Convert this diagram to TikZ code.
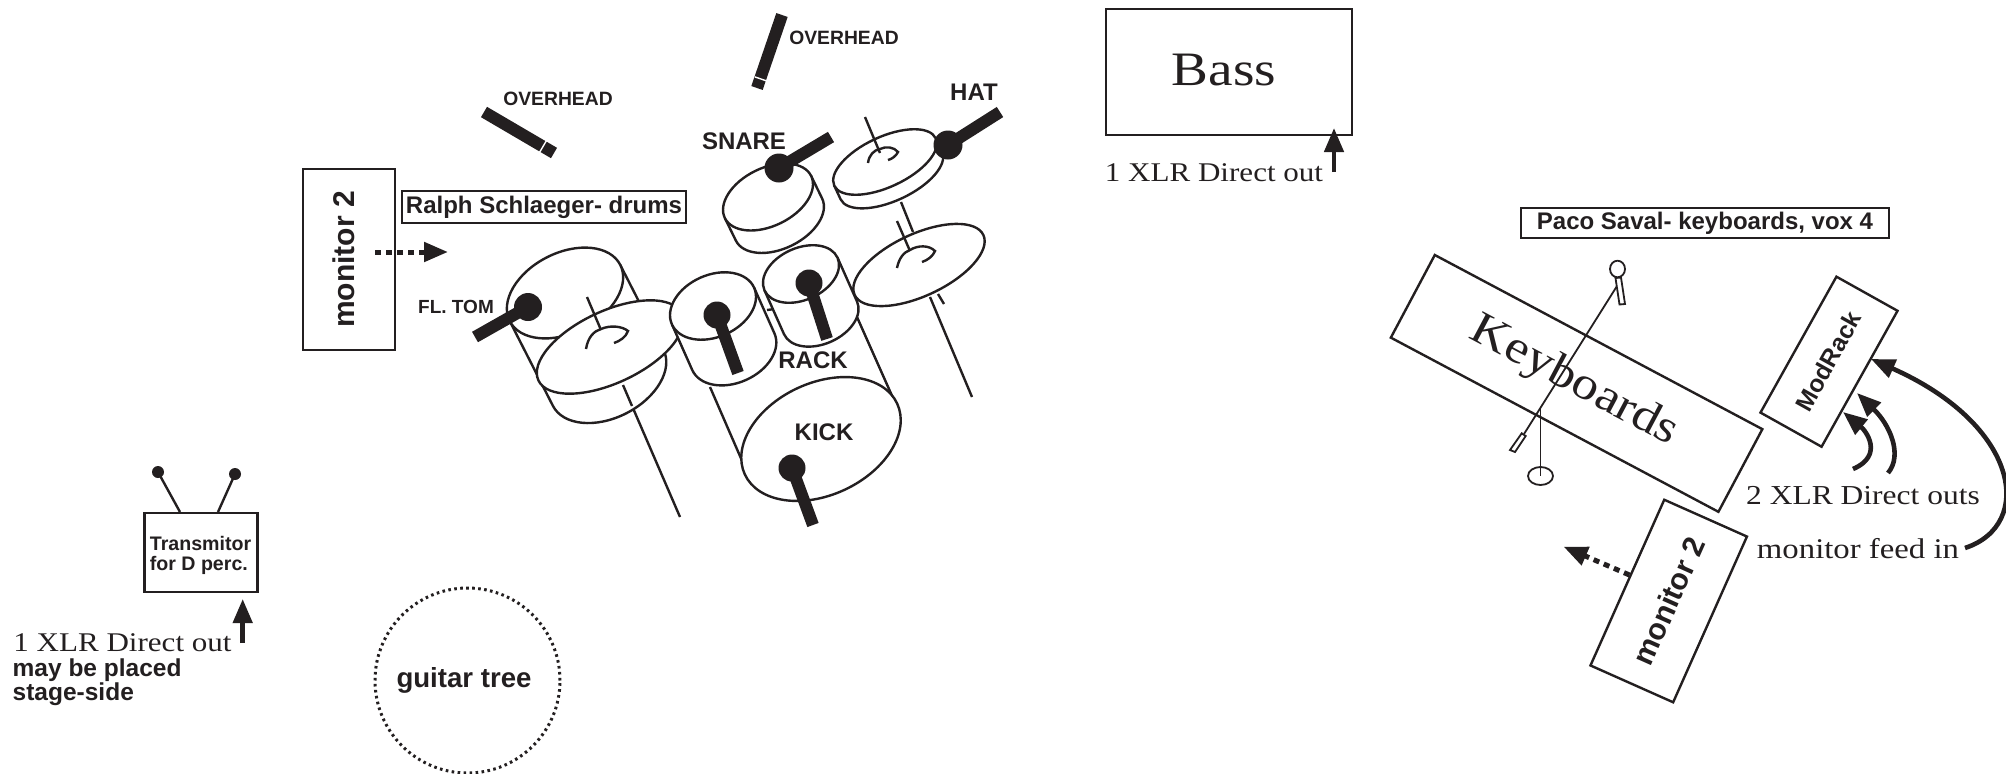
\documentclass[tikz,border=0pt]{standalone}
\usepackage{fontspec}
\usetikzlibrary{arrows.meta}
\setmainfont{Liberation Sans}
\newfontfamily\bkfont[FakeStretch=1.15]{Liberation Serif}
\definecolor{ink}{HTML}{231F20}
\newcommand\sanstxt[1]{\fontsize{#1}{#1}\selectfont\bfseries}
\newcommand\serftxt[1]{\bkfont\fontsize{#1}{#1}\selectfont}
% drum: centre x, y, tilt, semi axes a, b, shell depth h
\newcommand\drumshell[6]{%
  \begin{scope}[shift={(#1,#2)},rotate=#3,x=1pt,y=1pt]
    \filldraw[thinline,fill=white] (-#4,0) -- (-#4,-#6) arc[start angle=180,end angle=360,x radius=#4,y radius=#5] -- (#4,0);
    \filldraw[thinline,fill=white] (0,0) ellipse[x radius=#4,y radius=#5];
  \end{scope}}
\newcommand\cymbaldisc[5]{%
  \begin{scope}[shift={(#1,#2)},rotate=#3,x=1pt,y=1pt]
    \filldraw[thinline,fill=white] (0,0) ellipse[x radius=#4,y radius=#5];
  \end{scope}}
\newcommand\micstem[4]{\draw[micbar] (#1) -- (#2); \fill[ink] (#3) circle[radius=#4];}
\tikzset{
  thinline/.style={draw=ink,line width=2.4pt},
  plainbox/.style={draw=ink,line width=2.4pt,fill=white,inner sep=0pt,text=ink,align=center},
  txt/.style={inner sep=0pt,text=ink,align=left},
  micbar/.style={draw=ink,line width=12pt},
  sepbar/.style={draw=white,line width=1.4pt},
  solidarrow/.style={draw=ink,line width=4.6pt,-{Triangle[length=24pt,width=19pt]}},
  dotarrow/.style={draw=ink,line width=5pt,dash pattern=on 6pt off 5pt,-{Triangle[length=24pt,width=19pt]}},
}
\begin{document}
\begin{tikzpicture}[x=1pt,y=-1pt]
\useasboundingbox (0,0) rectangle (2006,774);

% ---- left monitor
\node[plainbox,rotate=90,minimum width=181pt,minimum height=92pt,font=\sanstxt{30}] (monA) at (349,259.5) {\raisebox{11pt}{monitor 2}};
\coordinate (monAfrom) at (375,252);
\coordinate (monAto) at (448,252);
\draw[dotarrow] (monAfrom) -- (monAto);

% ---- overheads
\draw[micbar] (484,112) -- (554,153);
\draw[sepbar] (546.3,140.9) -- (539.7,152.1);
\node[txt,font=\sanstxt{19.3}] (ohA) at (558,99) {OVERHEAD};
\draw[micbar] (782,15) -- (757,88);
\draw[sepbar] (754.9,76.9) -- (767.1,81.1);
\node[txt,font=\sanstxt{19.3}] (ohB) at (844,38) {OVERHEAD};

% ---- names
\node[plainbox,minimum width=284pt,minimum height=32pt,font=\sanstxt{24}] (ralph) at (544,207) {\raisebox{-1pt}{Ralph Schlaeger- drums}};

% ---- stands behind the kit
\draw[thinline] (901,202) -- (913,232);
\draw[thinline] (930,297) -- (972,397);
\draw[thinline] (938,294) -- (944,304);
\draw[thinline] (623,385) -- (680,517);

% ---- floor tom, crash
\drumshell{565}{293}{27}{62}{40}{95}
\cymbaldisc{610}{347}{25}{79}{36}
\draw[thinline] (587,297) -- (601,330);
\draw[thinline] (586,349) .. controls (588,337) and (594,331) .. (601,329) .. controls (610,325) and (622,326) .. (628,331) .. controls (626,337) and (620,341) .. (614,343);
\draw[thinline] (623,385) -- (632,406);

% ---- kick
\draw[thinline] (710,387) -- (743,463);
\draw[thinline] (857,317) -- (893,398);
\cymbaldisc{821}{439}{25}{84}{56}

% ---- snare, hat
\drumshell{768}{197}{26}{48}{29}{25}
\drumshell{885}{162}{25}{56}{25}{15}
\draw[thinline] (865,117) -- (880,153);
\draw[thinline] (868,163) .. controls (869,155) and (874,150) .. (880,149) .. controls (886,146) and (894,147) .. (898,152) .. controls (896,156) and (892,159) .. (888,160);

% ---- rack toms
\drumshell{713}{306}{24}{45}{31}{50}
\draw[thinline] (767,310) -- (775,309);
\drumshell{801}{274}{24}{40}{26}{48}

% ---- ride
\cymbaldisc{919}{265}{25}{71}{31}
\draw[thinline] (897,221) -- (910,251);
\draw[thinline] (897,268) .. controls (899,258) and (904,252) .. (910,250) .. controls (918,245) and (929,245) .. (935,251) .. controls (933,256) and (928,260) .. (922,262);

% ---- close mics
\micstem{475,337}{528,307}{528,307}{14}
\micstem{738,373}{717,315}{717,315}{13.5}
\micstem{827,339}{809,283}{809,283}{13.5}
\micstem{831,137}{779,168}{779,168}{14.5}
\micstem{1000,112}{948,145}{948,145}{14.5}
\micstem{813,525}{792,468}{792,468}{13.5}

\node[txt,font=\sanstxt{19}] (flt) at (456,307) {FL. TOM};
\node[txt,font=\sanstxt{24}] (rack) at (813,360) {RACK};
\node[txt,font=\sanstxt{24}] (kick) at (824,432) {KICK};
\node[txt,font=\sanstxt{24}] (snare) at (744,141) {SNARE};
\node[txt,font=\sanstxt{24}] (hat) at (974,92) {HAT};

% ---- transmitter
\node[plainbox,minimum width=113pt,minimum height=79pt] (trans) at (201,552.7) {};
\node[txt,font=\fontsize{19.6}{20}\selectfont\bfseries] (transt) at (200.5,555.5) {Transmitor\\for D perc.};
\coordinate (antA) at (158,472);
\coordinate (antB) at (235,474);
\fill[ink] (antA) circle[radius=6];
\fill[ink] (antB) circle[radius=6];
\draw[thinline] (antA) -- (180,512);
\draw[thinline] (antB) -- (218,512);
\coordinate (transfrom) at (242.7,643);
\coordinate (transto) at (242.7,599);
\draw[solidarrow] (transfrom) -- (transto);
\node[txt,font=\serftxt{27}] (transout) at (122.5,643) {1 XLR Direct out};
\node[txt,anchor=west,font=\fontsize{24.5}{24.5}\selectfont\bfseries] (stage) at (12.5,682) {may be placed\\stage-side};

% ---- guitar tree
\node[draw=ink,line width=3pt,dash pattern=on 2.6pt off 3.4pt,circle,minimum size=185pt,inner sep=0pt] (tree) at (467.5,680.5) {};
\node[txt,font=\sanstxt{27.6}] (treet) at (464,680) {guitar tree};

% ---- bass
\node[plainbox,minimum width=246pt,minimum height=126pt] (bass) at (1229,72) {};
\node[txt,font=\serftxt{48}] (basst) at (1224,70) {Bass};
\coordinate (bassfrom) at (1334,172);
\coordinate (bassto) at (1334,128);
\draw[solidarrow] (bassfrom) -- (bassto);
\node[txt,font=\serftxt{27}] (bassout) at (1214,173) {1 XLR Direct out};

% ---- keyboards
\node[plainbox,minimum height=30pt,minimum width=368pt,font=\sanstxt{24}] (paco) at (1705,223) {\raisebox{-1pt}{Paco Saval- keyboards, vox 4}};
\node[plainbox,rotate=-28,minimum width=371pt,minimum height=93.6pt,font=\serftxt{46}] (keys) at (1576.6,383.4) {\raisebox{-15pt}{Keyboards\hspace*{6pt}}};
\coordinate (micA) at (1617.5,269);
\coordinate (micB) at (1540.5,476);
\draw[thinline,line width=1.8pt] (1617,286) -- (1524,434);
\draw[thinline,line width=1.8pt] (1540.5,409) -- (micB);
\draw[thinline,line width=1.8pt] (micA) ellipse[x radius=7.5,y radius=8.3];
\draw[thinline,line width=1.8pt,fill=white] (1615.5,278) -- (1621,277.5) -- (1625,304) -- (1619.5,304.5) -- cycle;
\draw[thinline,line width=1.8pt,fill=white] (1521.7,433.3) -- (1525.7,436) -- (1515,452) -- (1510,450) -- cycle;
\draw[thinline,line width=1.8pt] (micB) ellipse[x radius=12.5,y radius=9];

\node[plainbox,rotate=60.8,minimum width=155.7pt,minimum height=70pt,font=\sanstxt{24.5}] (mod) at (1829,361.7) {\raisebox{2pt}{ModRack}};
\node[plainbox,rotate=66,minimum width=181.4pt,minimum height=90.5pt,font=\sanstxt{30}] (monB) at (1668.7,601) {\raisebox{-8pt}{monitor 2}};
\coordinate (monBfrom) at (1629.5,575);
\coordinate (monBto) at (1563.6,546.7);
\draw[dotarrow] (monBfrom) -- (monBto);

\node[txt,font=\serftxt{27.4}] (dout) at (1863,496) {2 XLR Direct outs};
\node[txt,font=\serftxt{28.5}] (feed) at (1858,549) {monitor feed in};

\coordinate (aFrom) at (1853,469); \coordinate (aTo) at (1843,412);
\coordinate (bFrom) at (1888,473); \coordinate (bTo) at (1857,393);
\coordinate (cFrom) at (1965,548); \coordinate (cTo) at (1871,359);
\draw[solidarrow] (aFrom) .. controls (1885,455) and (1865,430) .. (aTo);
\draw[solidarrow] (bFrom) .. controls (1903,455) and (1890,425) .. (bTo);
\draw[solidarrow] (cFrom) .. controls (2035,525) and (2020,425) .. (cTo);
\end{tikzpicture}
\end{document}
